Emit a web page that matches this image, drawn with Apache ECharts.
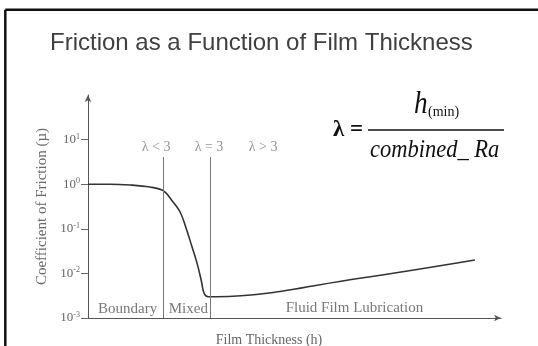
<!DOCTYPE html>
<html>
<head>
<meta charset="utf-8">
<script src="https://cdn.jsdelivr.net/npm/echarts@6/dist/echarts.min.js"></script>
<style>
html,body{margin:0;padding:0;background:#fff;}
#c{width:538px;height:346px;}
</style>
</head>
<body>
<div id="c"></div>
<script>
// ---- data ----
const curveX = [0, 5.3, 10.2, 15.0, 18.2, 20.6, 22.3, 23.5, 25.2, 26.4, 27.4, 28.1, 29.1, 31.2, 65.8, 93.7];
const curveMu = [1.0, 1.0, 0.96, 0.865, 0.715, 0.40, 0.238, 0.122, 0.039, 0.017, 0.0071, 0.0036, 0.0030, 0.0030, 0.0078, 0.020];
const yTickValues = [0.001, 0.01, 0.1, 1, 10];
const boundaryLinesX = [18.2, 29.7];
const boundaryLineTop = 4.07;
const lambdaLabels = ['λ < 3', 'λ = 3', 'λ > 3'];
const lambdaLabelX = [16.5, 29.3, 42.4];
const lambdaLabelMu = 6.8;
const regionLabels = ['Boundary', 'Mixed', 'Fluid Film Lubrication'];
const regionLabelX = [9.6, 24.3, 64.5];
const regionLabelMu = [0.0016, 0.0016, 0.0017];

const serif = '"Liberation Serif", "DejaVu Serif", serif';
const sans = '"Liberation Sans", Arial, sans-serif';

const chart = echarts.init(document.getElementById('c'), null, {renderer: 'canvas'});

const annot = (names, xs, ys) => names.map((n, i) => ({name: n, value: [xs[i], Array.isArray(ys) ? ys[i] : ys]}));

const option = {
  animation: false,
  backgroundColor: '#fff',
  grid: {left: 88, right: 37, top: 95, bottom: 28, containLabel: false},
  xAxis: {
    type: 'value', min: 0, max: 100,
    axisLine: {show: true, lineStyle: {color: '#555', width: 1}, symbol: ['none', 'arrow'], symbolSize: [5, 7]},
    axisTick: {show: false}, axisLabel: {show: false}, splitLine: {show: false}
  },
  yAxis: {
    type: 'log', logBase: 10, min: 0.001, max: 100,
    name: 'Coefficient of Friction (µ)', nameLocation: 'middle', nameRotate: 90, nameGap: 37,
    nameTextStyle: {fontFamily: serif, fontSize: 15, color: '#6a6a6a'},
    axisLine: {show: true, lineStyle: {color: '#555', width: 1}, symbol: ['none', 'arrow'], symbolSize: [5, 7]},
    axisTick: {show: true, length: 7, inside: false, lineStyle: {color: '#666'}, customValues: yTickValues},
    axisLabel: {
      show: true, margin: 8, customValues: yTickValues,
      formatter: (v) => '{b|10}{s|' + Math.round(Math.log10(v)) + '}',
      rich: {
        b: {fontFamily: serif, fontSize: 13, color: '#666'},
        s: {fontFamily: serif, fontSize: 8, color: '#666', verticalAlign: 'top', padding: [0, 0, 6, 0]}
      }
    },
    splitLine: {show: false}
  },
  series: [
    {
      type: 'line', name: 'friction',
      data: curveX.map((x, i) => [x, curveMu[i]]),
      smooth: 0.35, symbol: 'none',
      lineStyle: {color: '#333', width: 1.6},
      markLine: {
        silent: true, symbol: ['none', 'none'], label: {show: false},
        lineStyle: {color: '#777', width: 1, type: 'solid'},
        data: boundaryLinesX.map(x => [{coord: [x, boundaryLineTop]}, {coord: [x, 0.001]}])
      }
    },
    {
      type: 'scatter', name: 'lambda', silent: true, symbolSize: 0,
      data: annot(lambdaLabels, lambdaLabelX, lambdaLabelMu),
      label: {show: true, position: 'inside', formatter: p => p.name, fontFamily: serif, fontSize: 14, color: '#777'}
    },
    {
      type: 'scatter', name: 'regions', silent: true, symbolSize: 0,
      data: annot(regionLabels, regionLabelX, regionLabelMu),
      label: {show: true, position: 'inside', formatter: p => p.name, fontFamily: serif, fontSize: 15, color: '#555'}
    }
  ],
  graphic: [
    {type: 'line', shape: {x1: 5.3, y1: 9.7, x2: 538, y2: 9.7}, style: {stroke: '#111', lineWidth: 2.5}, silent: true},
    {type: 'line', shape: {x1: 5.3, y1: 9.7, x2: 5.3, y2: 346}, style: {stroke: '#111', lineWidth: 2.5}, silent: true},
    {type: 'text', x: 50, y: 43, style: {text: 'Friction as a Function of Film Thickness', font: '24px ' + sans, fill: '#404040', verticalAlign: 'middle', align: 'left'}, silent: true},
    {type: 'text', x: 269, y: 340, style: {text: 'Film Thickness (h)', font: '14px ' + serif, fill: '#666', verticalAlign: 'middle', align: 'center'}, silent: true},
    // formula
    {type: 'text', x: 333, y: 130, style: {text: 'λ =', font: 'bold 23px ' + serif, fill: '#111', verticalAlign: 'middle', align: 'left'}, silent: true},
    {type: 'line', shape: {x1: 368, y1: 130, x2: 504, y2: 130}, style: {stroke: '#111', lineWidth: 1.5}, silent: true},
    {type: 'text', x: 414, y: 105, scaleX: 0.85, style: {text: 'h', font: 'italic 32px ' + serif, fill: '#111', verticalAlign: 'middle', align: 'left'}, silent: true},
    {type: 'text', x: 428, y: 112, style: {text: '(min)', font: '14px ' + serif, fill: '#111', verticalAlign: 'middle', align: 'left'}, silent: true},
    {type: 'text', x: 370, y: 150, scaleX: 0.9, style: {text: 'combined_ Ra', font: 'italic 25px ' + serif, fill: '#111', verticalAlign: 'middle', align: 'left'}, silent: true}
  ]
};
chart.setOption(option);
</script>
</body>
</html>
